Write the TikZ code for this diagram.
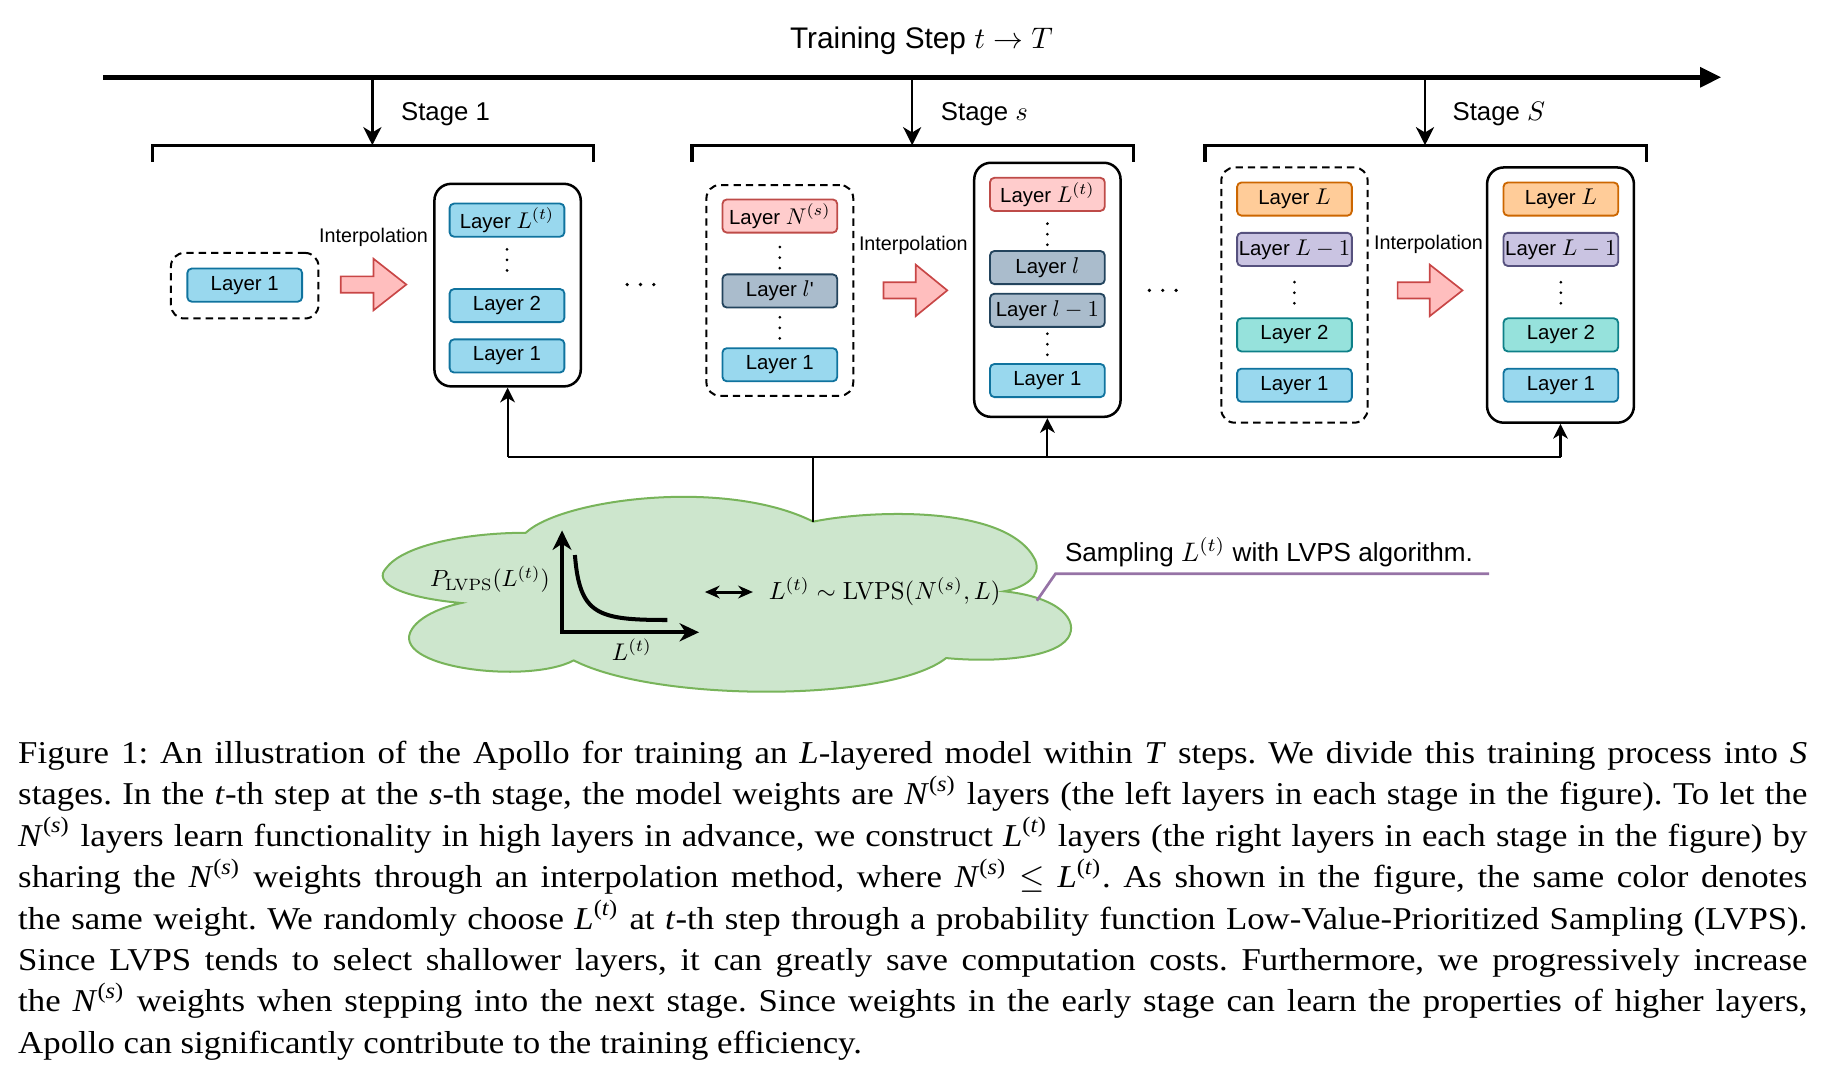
\RequirePackage{fix-cm}
\documentclass[tikz,border=0pt]{standalone}
\usepackage[no-math]{fontspec}
\usepackage{graphicx}
\newfontfamily\sfx{Liberation Sans}
\newfontfamily\capf{Liberation Serif}[FakeStretch=1.095]
\usetikzlibrary{arrows.meta}
\definecolor{blueF}{RGB}{153,216,238}
\definecolor{blueD}{RGB}{16,115,158}
\definecolor{redF}{RGB}{255,204,204}
\definecolor{redD}{RGB}{190,75,72}
\definecolor{grayF}{RGB}{170,188,204}
\definecolor{grayD}{RGB}{35,68,93}
\definecolor{orangeF}{RGB}{255,204,153}
\definecolor{orangeD}{RGB}{204,102,0}
\definecolor{purpleF}{RGB}{202,196,226}
\definecolor{purpleD}{RGB}{86,81,126}
\definecolor{tealF}{RGB}{150,226,220}
\definecolor{tealD}{RGB}{14,128,136}
\definecolor{cloudF}{RGB}{205,230,205}
\definecolor{cloudD}{RGB}{120,180,90}
\definecolor{arrF}{RGB}{255,190,190}
\definecolor{arrD}{RGB}{200,70,70}
\definecolor{callD}{RGB}{150,115,166}
\newcommand\fsz[1]{\fontsize{#1}{#1}\selectfont}
\newcommand\smath[2]{\scalebox{#1}{\fsz{10}$#2$}}
\newcommand\lm[1]{\smath{0.68}{#1}}
\newcommand\iN{\textit{N}\textsuperscript{(\textit{s})}}
\newcommand\iL{\textit{L}\textsuperscript{(\textit{t})}}
\newcommand\blockarrow[4]{\draw[barrow] (#1,#4-7) -- (#2,#4-7) -- (#2,#4-22) -- (#3,#4) -- (#2,#4+22) -- (#2,#4+7) -- (#1,#4+7) -- cycle;}
\begin{document}
\begin{tikzpicture}[x=0.35pt,y=-0.35pt,
  lay/.style={draw, rounded corners=1.3pt, minimum width=34.3pt, minimum height=9.9pt, inner sep=0pt, line width=0.55pt, font=\sfx\fsz{6.1}},
  lb/.style={lay, fill=blueF, draw=blueD},
  lr/.style={lay, fill=redF, draw=redD},
  lg/.style={lay, fill=grayF, draw=grayD},
  lo/.style={lay, fill=orangeF, draw=orangeD},
  lp/.style={lay, fill=purpleF, draw=purpleD},
  lt/.style={lay, fill=tealF, draw=tealD},
  ctr/.style={draw, rounded corners=5pt, line width=0.75pt, inner sep=0pt},
  dbox/.style={draw, dash pattern=on 2.2pt off 1.5pt, rounded corners=4pt, line width=0.6pt, inner sep=0pt},
  barrow/.style={fill=arrF, draw=arrD, line width=0.5pt, line join=miter},
  brk/.style={line width=1pt},
  sarr/.style={line width=0.7pt, -{Stealth[length=5.4pt,width=5.4pt,inset=1.6pt]}},
  conn/.style={line width=0.6pt},
  uparr/.style={conn, -{Stealth[length=4.4pt,width=4.4pt,inset=1.3pt]}},
  interp/.style={font=\sfx\fsz{5.9}},
  stagel/.style={font=\sfx\fsz{7.7}, anchor=base west, inner sep=0pt},
  cmath/.style={inner sep=0pt},
  vdot/.pic={\fill (0,-9) circle (0.45pt) (0,0) circle (0.45pt) (0,9) circle (0.45pt);},
  hdot/.pic={\fill (-11.4,0) circle (0.55pt) (0,0) circle (0.55pt) (11.4,0) circle (0.55pt);}
]
\useasboundingbox (0,0) rectangle (1568,921);

% timeline
\node[font=\sfx\fsz{8.9}, anchor=base, inner sep=0pt] (title) at (787,41) {Training Step \smath{0.89}{t \rightarrow T}};
\coordinate (t0) at (88,66);
\coordinate (t1) at (1470,66);
\draw[line width=1.4pt, -{Triangle[length=6.3pt,width=5.8pt]}] (t0) -- (t1);

\coordinate (b1) at (318,124);
\coordinate (b2) at (779,124);
\coordinate (b3) at (1217,124);
\draw[brk] (130,138) -- (130,124) -- (507,124) -- (507,138);
\draw[brk] (591,138) -- (591,124) -- (968,124) -- (968,138);
\draw[brk] (1029,138) -- (1029,124) -- (1406,124) -- (1406,138);
\draw[sarr] (b1 |- t0) -- (b1);
\draw[sarr] (b2 |- t0) -- (b2);
\draw[sarr] (b3 |- t0) -- (b3);
\node[stagel] (s1) at (342,103) {Stage 1};
\node[stagel] (s2) at (803,103) {Stage \smath{0.8}{s}};
\node[stagel] (s3) at (1240,103) {Stage \smath{0.8}{S}};

% stage 1
\node[dbox, minimum width=44.1pt, minimum height=19.6pt] (d1) at (209,244) {};
\node[lb] (d1a) at (209,243.5) {Layer 1};
\node[interp] (i1) at (319,202.5) {Interpolation};
\blockarrow{291}{319}{347}{243}
\node[ctr, minimum width=43.75pt, minimum height=60.55pt] (r1) at (433.5,243.5) {};
\node[lb] (r1a) at (433,188) {Layer \lm{L^{(t)}}};
\pic at (433,222) {vdot};
\node[lb] (r1b) at (433,261) {Layer 2};
\node[lb] (r1c) at (433,304) {Layer 1};

\pic at (547,243) {hdot};

% stage s
\node[dbox, minimum width=43.9pt, minimum height=63pt] (d2) at (666,248) {};
\node[lr] (d2a) at (666,184.5) {Layer \lm{N^{(s)}}};
\pic at (666,220) {vdot};
\node[lg] (d2b) at (666,248.5) {Layer \lm{l}\textquotesingle};
\pic at (666,280) {vdot};
\node[lb] (d2c) at (666,311.5) {Layer 1};
\node[interp] (i2) at (780,210) {Interpolation};
\blockarrow{754.5}{782}{809}{248}
\node[ctr, minimum width=43.75pt, minimum height=75.95pt] (r2) at (894.5,247.5) {};
\node[lr] (r2a) at (894.5,166) {Layer \lm{L^{(t)}}};
\pic at (894.5,200) {vdot};
\node[lg] (r2b) at (894.5,228.5) {Layer \lm{l}};
\node[lg] (r2c) at (894.5,265) {Layer \lm{l-1}};
\pic at (894.5,294) {vdot};
\node[lb] (r2d) at (894.5,325) {Layer 1};

\pic at (993,248) {hdot};

% stage S
\node[dbox, minimum width=43.75pt, minimum height=76.3pt] (d3) at (1105.5,252) {};
\node[lo] (d3a) at (1105.5,170) {Layer \lm{L}};
\node[lp] (d3b) at (1105.5,213) {Layer \lm{L-1}};
\pic at (1105.5,250) {vdot};
\node[lt] (d3c) at (1105.5,286) {Layer 2};
\node[lb] (d3d) at (1105.5,329) {Layer 1};
\node[interp] (i3) at (1220,209) {Interpolation};
\blockarrow{1193.6}{1221}{1249}{248}
\node[ctr, minimum width=43.9pt, minimum height=76.3pt] (r3) at (1332.7,252) {};
\node[lo] (r3a) at (1333,170) {Layer \lm{L}};
\node[lp] (r3b) at (1333,213) {Layer \lm{L-1}};
\pic at (1333,250) {vdot};
\node[lt] (r3c) at (1333,286) {Layer 2};
\node[lb] (r3d) at (1333,329) {Layer 1};

% bus
\coordinate (bus) at (694,390);
\coordinate (ctop) at (694,445.5);
\draw[conn] (r1.south |- bus) -- (r3.south |- bus);
\draw[uparr] (r1.south |- bus) -- (r1.south);
\draw[uparr] (r2.south |- bus) -- (r2.south);
\draw[uparr] (r3.south |- bus) -- (r3.south);

% cloud
\draw[fill=cloudF, draw=cloudD, line width=0.6pt]
  (449,455) .. controls (480,426) and (620,408) .. (694.5,445.5)
  .. controls (740,436) and (860,430) .. (884,478)
  .. controls (890,492) and (875,502) .. (857.5,505)
  .. controls (905,510) and (922,530) .. (912,545)
  .. controls (900,562) and (850,566) .. (808,562)
  .. controls (760,600) and (560,600) .. (490,564)
  .. controls (450,585) and (330,570) .. (352,537)
  .. controls (360,525) and (380,518) .. (394,515)
  .. controls (340,510) and (318,497) .. (330,485)
  .. controls (345,465) and (400,455) .. cycle;
\draw[conn] (ctop) -- (bus);

\node[cmath, anchor=base east] (plab) at (470,501) {\smath{0.70}{P_{\mathrm{LVPS}}(L^{(t)})}};
\coordinate (ax0) at (480,540);
\coordinate (axy) at (480,453);
\coordinate (axx) at (597,540);
\draw[line width=1.3pt, line join=miter, {Stealth[length=5.8pt,width=5.6pt,inset=1.8pt]}-{Stealth[length=5.8pt,width=5.4pt,inset=1.8pt]}] (axy) -- (ax0) -- (axx);
\draw[line width=1.2pt] (491,474) .. controls (495,525) and (510,529.5) .. (570,529.5);
\node[cmath, anchor=base west] (xlab) at (522,563.7) {\smath{0.72}{L^{(t)}}};
\coordinate (da0) at (602,505.6);
\coordinate (da1) at (643,505.6);
\draw[line width=0.9pt, {Stealth[length=4.4pt,width=3.8pt]}-{Stealth[length=4.4pt,width=3.8pt]}] (da0) -- (da1);
\node[cmath, anchor=base west] (form) at (656,512) {\smath{0.74}{L^{(t)} \sim \mathrm{LVPS}(N^{(s)},L)}};

% callout
\coordinate (cl0) at (885.5,513);
\coordinate (cl1) at (901.4,490);
\coordinate (cl2) at (1271.7,490);
\draw[draw=callD, line width=0.8pt] (cl0) -- (cl1) -- (cl2);
\node[font=\sfx\fsz{7.8}, anchor=base west, inner sep=0pt] (samp) at (909,479.7) {Sampling \smath{0.8}{L^{(t)}} with LVPS algorithm.};

% caption
\node[anchor=base west, inner sep=0pt, text width=534.8pt, align=justify, font=\capf\fontsize{9.5}{12.39}\selectfont\frenchspacing] (cap) at (15,651.8) {Figure 1: An illustration of the Apollo for training an \textit{L}-layered model within \textit{T} steps. We divide this training process into \textit{S}\linebreak
stages. In the \textit{t}-th step at the \textit{s}-th stage, the model weights are \iN{} layers (the left layers in each stage in the figure). To let the\linebreak
\iN{} layers learn functionality in high layers in advance, we construct \iL{} layers (the right layers in each stage in the figure) by\linebreak
sharing the \iN{} weights through an interpolation method, where \iN{} $\leq$ \iL. As shown in the figure, the same color denotes\linebreak
the same weight. We randomly choose \iL{} at \textit{t}-th step through a probability function Low-Value-Prioritized Sampling (LVPS).\linebreak
Since LVPS tends to select shallower layers, it can greatly save computation costs. Furthermore, we progressively increase\linebreak
the \iN{} weights when stepping into the next stage. Since weights in the early stage can learn the properties of higher layers,\linebreak
Apollo can significantly contribute to the training efficiency.};
\end{tikzpicture}
\end{document}
